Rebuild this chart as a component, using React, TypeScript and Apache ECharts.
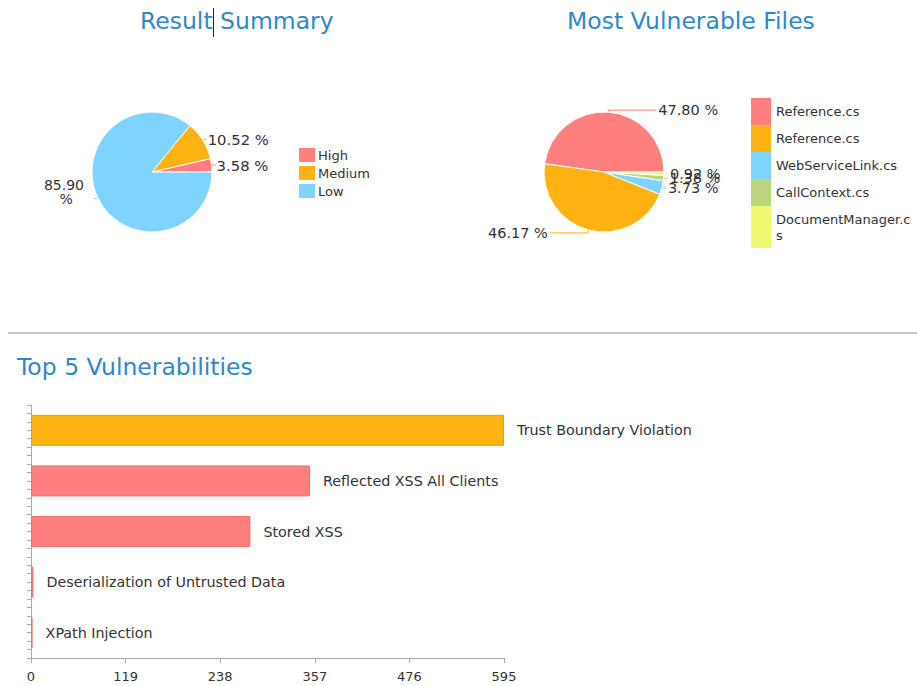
import React, { useEffect, useRef } from "react";
import * as echarts from "echarts";

// ---- data ----
const severityNames = ["High", "Medium", "Low"];
const severityPercents = [3.58, 10.52, 85.9];

const fileNames = ["Reference.cs", "Reference.cs", "WebServiceLink.cs", "CallContext.cs", "DocumentManager.cs"];
const filePercents = [47.8, 46.17, 3.73, 1.38, 0.92];

const vulnNames = [
  "Trust Boundary Violation",
  "Reflected XSS All Clients",
  "Stored XSS",
  "Deserialization of Untrusted Data",
  "XPath Injection",
];
const vulnCounts = [595, 351, 276, 3, 2];
const vulnSeverity = ["Medium", "High", "High", "High", "High"];

const xTickStep = 119;
const xMax = 595;

// ---- styles ----
const FONT = "DejaVu Sans";
const TITLE_COLOR = "#2E88CC";
const TEXT = "#333333";
const sevColors: Record<string, string> = { High: "#FF7F7F", Medium: "#FFB312", Low: "#7FD4FF" };
const sevBorders: Record<string, string> = { High: "#EE7070", Medium: "#E9A000", Low: "#6CC2EE" };
const fileColors = ["#FF7F7F", "#FFB312", "#7FD4FF", "#B9D57E", "#F0FA6E"];
const fileLineLens = [
  [2, 48],
  [3, 38],
  [2, 2],
  [2, 2],
  [2, 2],
];

export default function App() {
  const ref = useRef<HTMLDivElement>(null);

  useEffect(() => {
    if (!ref.current) return;
    const chart = echarts.init(ref.current, undefined, { renderer: "svg" });

    // unique legend keys for duplicate file names (trailing spaces)
    const seen: Record<string, number> = {};
    const fileKeys = fileNames.map((n) => {
      const c = seen[n] || 0;
      seen[n] = c + 1;
      return n + " ".repeat(c);
    });

    const pctFmt = (p: any) => `${Number(p.value).toFixed(2)} %`;
    const titleStyle = { color: TITLE_COLOR, fontSize: 23.5, fontWeight: "normal", fontFamily: FONT, lineHeight: 28 };
    const fileLegendText = {
      fontSize: 13,
      color: TEXT,
      fontFamily: FONT,
      lineHeight: 16,
      width: 138,
      overflow: "breakAll",
    };

    const option: any = {
      animation: false,
      textStyle: { fontFamily: FONT },
      title: [
        { text: "Result Summary", left: 140, top: 7, padding: 0, textStyle: titleStyle },
        { text: "Most Vulnerable Files", left: 567, top: 7, padding: 0, textStyle: titleStyle },
        { text: "Top 5 Vulnerabilities", left: 17, top: 353, padding: 0, textStyle: titleStyle },
      ],
      legend: [
        {
          orient: "vertical",
          left: 299,
          top: 148,
          padding: 0,
          icon: "rect",
          itemWidth: 16,
          itemHeight: 14,
          itemGap: 4,
          itemStyle: { borderWidth: 0 },
          data: severityNames,
          textStyle: { fontSize: 13, color: TEXT, fontFamily: FONT, lineHeight: 14, padding: [0, 0, 0, -2] },
        },
        {
          orient: "vertical",
          left: 751,
          top: 98,
          padding: 0,
          icon: "rect",
          itemWidth: 20,
          itemHeight: 27,
          itemGap: 0,
          itemStyle: { borderWidth: 0 },
          data: fileKeys.slice(0, fileKeys.length - 1),
          textStyle: fileLegendText,
        },
        {
          orient: "vertical",
          left: 751,
          top: 206,
          padding: 0,
          icon: "rect",
          itemWidth: 20,
          itemHeight: 42,
          itemGap: 0,
          itemStyle: { borderWidth: 0 },
          data: fileKeys.slice(fileKeys.length - 1),
          textStyle: { ...fileLegendText, padding: [3, 0, 0, 0] },
        },
      ],
      graphic: [
        {
          type: "line",
          shape: { x1: 8, y1: 333, x2: 917, y2: 333 },
          style: { stroke: "#C8C8C8", lineWidth: 2 },
          silent: true,
        },
        {
          type: "line",
          shape: { x1: 213.5, y1: 8, x2: 213.5, y2: 37 },
          style: { stroke: "#222", lineWidth: 1 },
          silent: true,
        },
      ],
      grid: { left: 31, right: 413, top: 405, bottom: 28, containLabel: false },
      xAxis: {
        type: "value",
        min: 0,
        max: xMax,
        interval: xTickStep,
        axisLine: { show: true, lineStyle: { color: "#AAAAAA" } },
        axisTick: { show: true, length: 5, lineStyle: { color: "#AAAAAA" } },
        axisLabel: { color: TEXT, fontSize: 13, margin: 12, fontFamily: FONT },
        splitLine: { show: false },
      },
      yAxis: [
        {
          type: "category",
          data: vulnNames,
          inverse: true,
          axisLine: { show: true, lineStyle: { color: "#AAAAAA" } },
          axisTick: { show: false },
          axisLabel: { show: false },
        },
        {
          type: "value",
          min: 0,
          max: 30,
          interval: 1,
          position: "left",
          axisLine: { show: false },
          axisTick: { show: true, length: 4, lineStyle: { color: "#AAAAAA" } },
          axisLabel: { show: false },
          splitLine: { show: false },
        },
      ],
      series: [
        {
          type: "pie",
          name: "Result Summary",
          center: [152, 172],
          radius: 60,
          startAngle: 0,
          clockwise: false,
          avoidLabelOverlap: false,
          itemStyle: { borderColor: "#fff", borderWidth: 1 },
          label: { formatter: pctFmt, fontSize: 14.8, color: TEXT, fontFamily: FONT, distanceToLabelLine: 1 },
          labelLine: { length: 2, length2: 2, lineStyle: { width: 1 } },
          labelLayout: (params: any) => {
            if (params.dataIndex !== 2 || !params.labelLinePoints) return {};
            const end = params.labelLinePoints[params.labelLinePoints.length - 1];
            return {
              x: end[0] - 30,
              y: end[1] - 7,
              align: "center",
              verticalAlign: "middle",
              labelLinePoints: params.labelLinePoints,
            };
          },
          data: severityNames.map((n, i) => ({
            name: n,
            value: severityPercents[i],
            itemStyle: { color: sevColors[n] },
            ...(i === 2 ? { label: { width: 46, overflow: "break", fontSize: 14 } } : {}),
          })),
        },
        {
          type: "pie",
          name: "Most Vulnerable Files",
          center: [604, 172],
          radius: 60,
          startAngle: 0,
          clockwise: false,
          avoidLabelOverlap: false,
          itemStyle: { borderColor: "#fff", borderWidth: 1 },
          label: { formatter: pctFmt, fontSize: 14.5, color: TEXT, fontFamily: FONT, distanceToLabelLine: 2 },
          labelLayout: { hideOverlap: false },
          data: fileKeys.map((n, i) => ({
            name: n,
            value: filePercents[i],
            itemStyle: { color: fileColors[i] },
            labelLine: { length: fileLineLens[i][0], length2: fileLineLens[i][1], lineStyle: { width: 1 } },
          })),
        },
        {
          type: "bar",
          xAxisIndex: 0,
          yAxisIndex: 0,
          barWidth: 31,
          label: {
            show: true,
            position: "right",
            distance: 13,
            formatter: "{b}",
            fontSize: 14.3,
            color: TEXT,
            fontFamily: FONT,
          },
          data: vulnCounts.map((v, i) => ({
            value: v,
            itemStyle: {
              color: sevColors[vulnSeverity[i]],
              borderColor: sevBorders[vulnSeverity[i]],
              borderWidth: 1,
            },
          })),
        },
      ],
    };

    chart.setOption(option);
    return () => chart.dispose();
  }, []);

  return (
    <div
      ref={ref}
      style={{ position: "absolute", left: 0, top: 0, width: 917, height: 686, background: "#fff" }}
    />
  );
}
